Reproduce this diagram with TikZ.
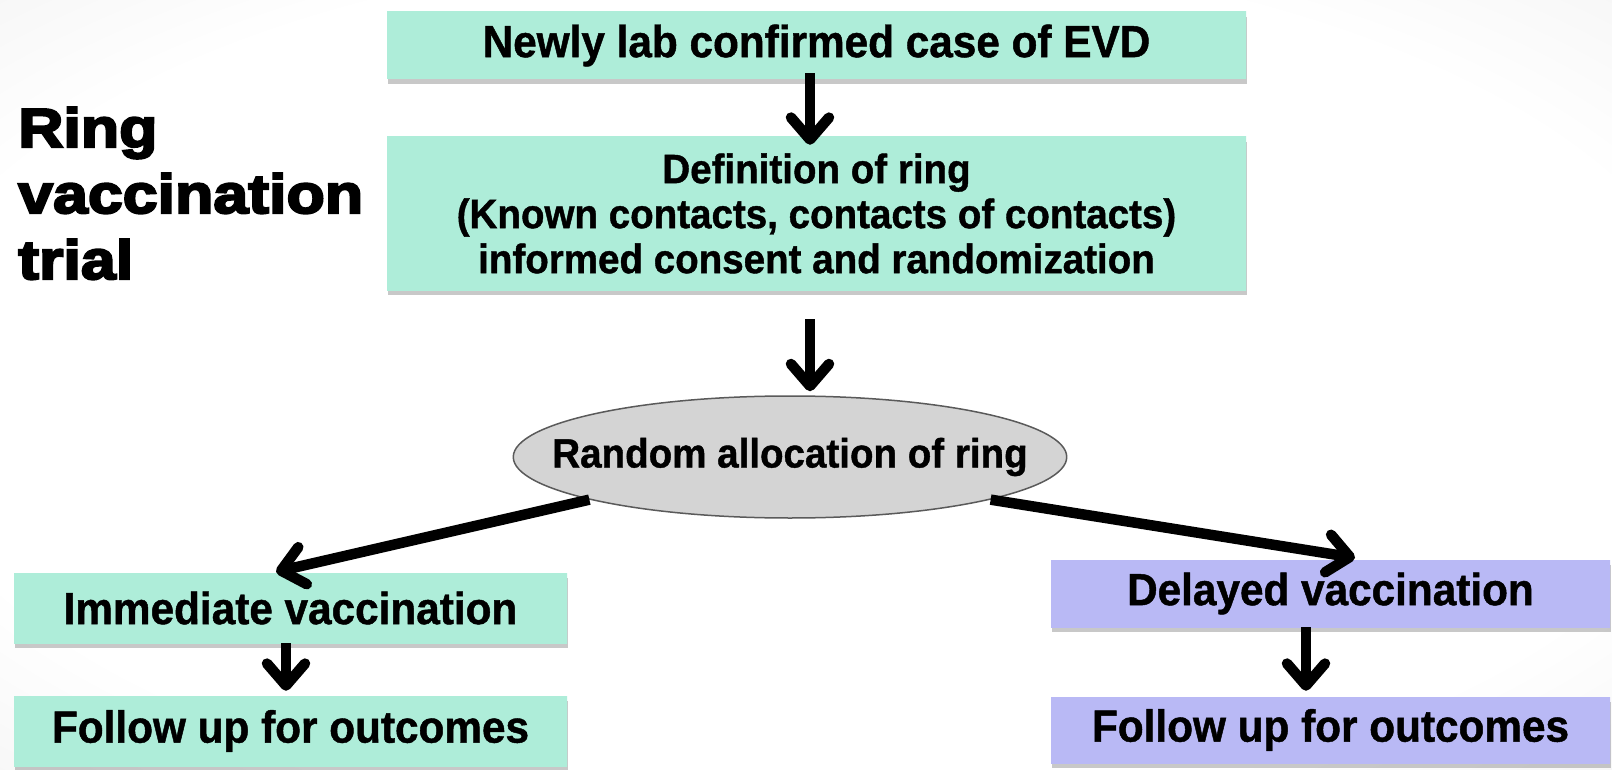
\documentclass[tikz,border=0pt]{standalone}
\usepackage{fontspec}
\setmainfont{Liberation Sans}
\newfontfamily\boxfont{Liberation Sans Bold}[FakeStretch=0.94,FakeBold=1]
\newfontfamily\titlefont{Liberation Sans Bold}[FakeStretch=1.14,FakeBold=4]
\usetikzlibrary{arrows.meta,shapes.geometric,shadows}

\definecolor{mintTop}{HTML}{D6F8EE}
\definecolor{mintMid}{HTML}{AEEDD9}
\definecolor{mintBot}{HTML}{84C6AF}
\definecolor{periTop}{HTML}{DADAFB}
\definecolor{periMid}{HTML}{B9B9F5}
\definecolor{periBot}{HTML}{9090D0}
\definecolor{ellFill}{HTML}{D4D4D4}
\definecolor{ellLine}{HTML}{5A5A5A}
\definecolor{edgeGray}{HTML}{E6E6E6}

\pgfdeclareradialshading{slidebg}{\pgfpoint{0bp}{0bp}}{%
  color(0bp)=(white); color(28bp)=(white); color(52bp)=(edgeGray); color(70bp)=(edgeGray)}
% box fills: light rim at the top, flat body, darker rim at the bottom
\pgfdeclareverticalshading{mintshade}{100bp}{%
  color(0bp)=(mintBot); color(7bp)=(mintMid); color(82bp)=(mintMid);
  color(94bp)=(mintTop); color(100bp)=(mintTop)}
\pgfdeclareverticalshading{perishade}{100bp}{%
  color(0bp)=(periBot); color(7bp)=(periMid); color(82bp)=(periMid);
  color(94bp)=(periTop); color(100bp)=(periTop)}

\tikzset{
  flowbox/.style={rectangle, inner sep=0pt, align=center,
    font=\boxfont\fontsize{45}{45}\selectfont,
    drop shadow={shadow xshift=1pt, shadow yshift=-5pt, opacity=0.3, fill=black!70}},
  greenbox/.style={flowbox, shading=mintshade},
  bluebox/.style={flowbox, shading=perishade},
  arr/.style={line width=10.5pt, -{Straight Barb[length=22pt,width=38pt,round]}},
}

\begin{document}
\begin{tikzpicture}[x=1pt,y=-1pt]
  % page background with a soft grey rim
  \useasboundingbox (0,0) rectangle (1612,770);
  \shade[shading=slidebg] (0,0) rectangle (1612,770);

  % title
  \node[anchor=north west, inner sep=0pt, align=left,
        font=\titlefont\fontsize{55}{66}\selectfont] (title) at (18,107)
        {Ring\\vaccination\\trial};

  % flow boxes
  \node[greenbox, minimum width=859pt, minimum height=67pt] (top) at (816.5,45.5)
        {Newly lab confirmed case of EVD};
  \node[greenbox, minimum width=859pt, minimum height=153pt,
        font=\boxfont\fontsize{41}{45}\selectfont] (def) at (816.5,213.5)
        {Definition of ring\\(Known contacts, contacts of contacts)\\informed consent and randomization};
  \node[ellipse, fill=ellFill, draw=ellLine, line width=1.5pt,
        inner xsep=-42pt, inner ysep=0pt,
        minimum width=552pt, minimum height=122pt,
        font=\boxfont\fontsize{41}{45}\selectfont] (ell) at (790,457)
        {Random allocation of ring};

  \node[greenbox, minimum width=553pt, minimum height=70pt] (imm) at (290.5,608)
        {Immediate vaccination};
  \node[greenbox, minimum width=553pt, minimum height=70pt] (fl) at (290.5,731)
        {Follow up for outcomes};
  \node[bluebox, minimum width=559pt, minimum height=67pt] (del) at (1330.5,593.5)
        {Delayed vaccination};
  \node[bluebox, minimum width=559pt, minimum height=66pt] (fr) at (1330.5,730)
        {Follow up for outcomes};

  % connectors
  \draw[arr] ([xshift=-6.5pt,yshift=6pt]top.south) -- ([xshift=-6.5pt,yshift=-8pt]def.north);
  \draw[arr] ([xshift=-6.5pt,yshift=-29pt]def.south) -- ([xshift=20pt,yshift=4pt]ell.north);
  \draw[arr] (ell.192.6) -- ([xshift=-14.5pt,yshift=1pt]imm.north);
  \draw[arr] (ell.-12.3) -- ([xshift=24.5pt,yshift=2pt]del.north);
  \draw[arr] ([xshift=-4.5pt]imm.south) -- ([xshift=-4.5pt,yshift=5pt]fl.north);
  \draw[arr] ([xshift=-24.5pt]del.south) -- ([xshift=-24.5pt,yshift=6pt]fr.north);
\end{tikzpicture}
\end{document}
